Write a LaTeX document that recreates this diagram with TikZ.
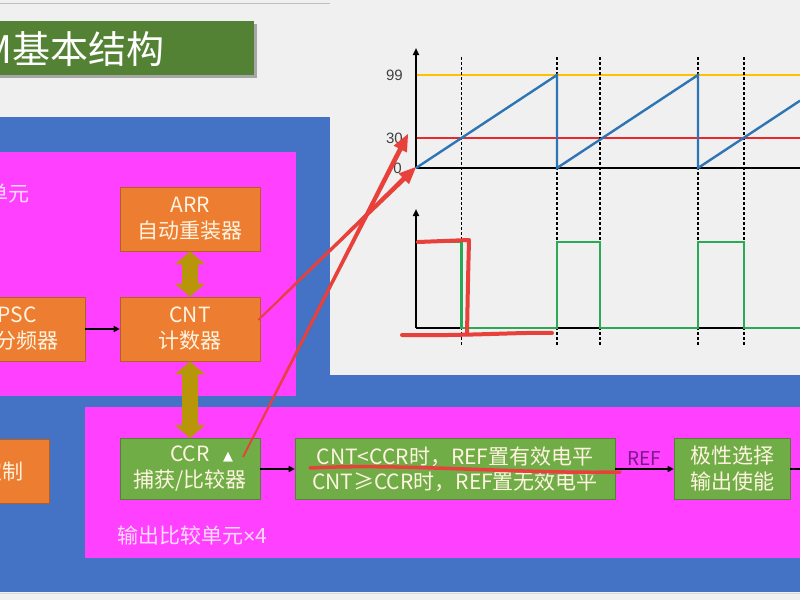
\documentclass[tikz,border=0pt]{standalone}
\usepackage{fontspec}
\setmainfont{Noto Sans CJK SC}
\newfontfamily\dejavu{DejaVu Sans}
\newfontfamily\libsans{Liberation Sans}
\usetikzlibrary{calc,arrows.meta}
\definecolor{bg}{HTML}{F0F0F0}
\definecolor{blueb}{HTML}{4472C4}
\definecolor{mag}{HTML}{FF40FF}
\definecolor{orangeb}{HTML}{ED7D31}
\definecolor{greenb}{HTML}{70AD47}
\definecolor{titleg}{HTML}{548235}
\definecolor{olivec}{HTML}{B99509}
\definecolor{boxtext}{HTML}{FFF4E0}
\definecolor{pinktext}{HTML}{FFDDFF}
\definecolor{refpurple}{HTML}{7A1A8A}
\definecolor{redpen}{HTML}{E8403A}
\definecolor{gyellow}{HTML}{FFC000}
\definecolor{gred}{HTML}{E8282A}
\definecolor{gblue}{HTML}{2E75B6}
\definecolor{ggreen}{HTML}{2BAA55}
\definecolor{axisgray}{HTML}{404040}
\newcommand\hdarrow[3]{%
  \coordinate (#3) at ($(#2)!17pt!(#1)$);
  \fill[redpen] ($(#1)!0.9pt!90:(#2)$) -- ($(#3)!2.4pt!-90:(#1)$) -- ($(#3)!7.5pt!-90:(#1)$) -- (#2)
    -- ($(#3)!7.5pt!90:(#1)$) -- ($(#3)!2.4pt!90:(#1)$) -- ($(#1)!0.9pt!-90:(#2)$) -- cycle;}
\newcommand\blockarrow[2]{%
  \fill[olivec] let \p1=(#1), \p2=(#2) in
    (\x1,\y1) -- (\x1+15pt,\y1-13pt) -- (\x1+8pt,\y1-13pt) -- (\x1+8pt,\y2+13pt) -- (\x1+15pt,\y2+13pt)
    -- (\x2,\y2) -- (\x1-15pt,\y2+13pt) -- (\x1-8pt,\y2+13pt) -- (\x1-8pt,\y1-13pt) -- (\x1-15pt,\y1-13pt) -- cycle;}
\begin{document}
\begin{tikzpicture}[x=1pt,y=-1pt,
  box/.style={draw=#1!75!black, line width=0.6pt, fill=#1, text=boxtext, align=center,
    font=\fontsize{21}{26}\selectfont, inner sep=0pt},
  lbl/.style={text=pinktext, inner sep=0pt, font=\fontsize{21}{24}\selectfont},
  conn/.style={line width=1.6pt, -{Triangle[length=6pt,width=6pt]}},
  axisline/.style={line width=2.2pt, black},
  axisarrow/.style={line width=1.8pt, black, -{Triangle[length=7pt,width=6pt]}},
  vdash/.style={line width=1.8pt, black, dash pattern=on 3pt off 2pt},
  sig/.style={line width=2.4pt, line join=miter},
  scribble/.style={redpen, line width=4pt, line cap=round, line join=round},
  ticklbl/.style={text=axisgray, inner sep=0pt, font=\libsans\fontsize{15}{15}\selectfont}]
\useasboundingbox (0,0) rectangle (800,600);
% background
\fill[bg] (0,0) rectangle (800,600);
\draw[black!25, line width=1pt] (0,3.5) -- (800,3.5);
\fill[blueb] (-5,117) rectangle (805,592);
\draw[white!85!black, line width=1pt] (0,593.5) -- (800,593.5);
\fill[bg] (330,-5) rectangle (805,375);
% magenta units
\fill[mag] (-5,152) rectangle (296,396);
\fill[mag] (85,407) rectangle (805,558);
% title
\fill[black!35] (-5,24) rectangle (257,78);
\fill[titleg] (-5,21) rectangle (254,75);
\node[anchor=east, text=white, inner sep=0pt, font=\fontsize{38}{38}\selectfont] (title) at (165,49) {M基本结构};
% time base
\node[lbl, anchor=east] (tbl) at (30,194) {时基单元};
\node[box=orangeb, minimum width=140, minimum height=64] (arr) at (190,219) {ARR\\自动重装器};
\node[box=orangeb, minimum width=140, minimum height=64] (cnt) at (190,329) {CNT\\计数器};
\node[box=orangeb, minimum width=136, minimum height=64] (psc) at (17,329) {PSC\\预分频器};
\draw[conn] (psc.east) -- (cnt.west);
\blockarrow{arr.south}{cnt.north}
% left orange box
\node[box=orangeb, minimum width=140, minimum height=64, anchor=east] (ctl) at (50,471) {};
\node[text=boxtext, inner sep=0pt, anchor=east, font=\fontsize{21}{24}\selectfont] (ctltxt) at (24,471) {定制};
% output compare
\node[box=greenb, minimum width=140, minimum height=61] (ccr) at (190,469) {CCR\\捕获/比较器};
\node[text=white, inner sep=0pt, font=\dejavu\fontsize{13}{13}\selectfont] (tri) at (228,457) {▲};
\blockarrow{cnt.south}{ccr.north}
\node[box=greenb, minimum width=320, minimum height=61, font=\fontsize{21}{25}\selectfont] (cmp) at (455,469) {CNT<CCR时，REF置有效电平\\CNT≥CCR时，REF置无效电平};
\node[box=greenb, minimum width=116, minimum height=61] (pol) at (732,469) {极性选择\\输出使能};
\coordinate (outR) at (805,469);
\draw[conn] (ccr.east) -- (cmp.west);
\draw[conn] (cmp.east) -- node[above=3pt, text=refpurple, font=\fontsize{19}{19}\selectfont, inner sep=0pt] (reflbl) {REF} (pol.west);
\draw[line width=1.6pt] (pol.east) -- (outR);
\node[lbl, anchor=west] (oclbl) at (117,535) {输出比较单元{\libsans×}4};
% ---- graph ----
\coordinate (o1) at (416,168);
\coordinate (o2) at (416,328);
\draw[gyellow, line width=2.4pt] (416,75) -- (805,75);
\draw[gred, line width=2.4pt] (416,138) -- (805,138);
\foreach \xx in {461.5,557,600,698,744} \draw[vdash] (\xx,57) -- (\xx,346);
\draw[axisline] (o1) -- (805,168);
\draw[axisarrow] (o1) -- (416,48);
\draw[gblue, sig] (o1) -- (557,75) -- (557,168) -- (698,75) -- (698,168) -- (800,100.7);
\draw[axisline] (o2) -- (805,328);
\draw[axisarrow] (o2) -- (416,209);
\draw[ggreen, sig] (416,242) -- (461.5,242) -- (461.5,328) -- (557,328) -- (557,242) -- (600,242) -- (600,328)
  -- (698,328) -- (698,242) -- (744,242) -- (744,328) -- (805,328);
\node[ticklbl, anchor=east] (l99) at (403,75) {99};
\node[ticklbl, anchor=east] (l30) at (403,138) {30};
\node[ticklbl, anchor=east] (l0) at (402,168) {0};
% ---- red annotations ----
\coordinate (a1s) at ($(cnt.east)+(-2,-9)$);
\coordinate (a1e) at (416,167);
\coordinate (a2s) at ($(ccr.center)+(53,-12)$);
\coordinate (a2e) at (408,134);
\hdarrow{a1s}{a1e}{hb1}
\hdarrow{a2s}{a2e}{hb2}
\draw[scribble] (418,242) -- (469,240) .. controls (468,280) .. (467,334);
\draw[scribble] (402,335) .. controls (470,336) and (520,332) .. (552,333);
\draw[scribble, line width=3.5pt] (310,468) .. controls (400,463) and (520,474) .. (620,472);
\end{tikzpicture}
\end{document}
